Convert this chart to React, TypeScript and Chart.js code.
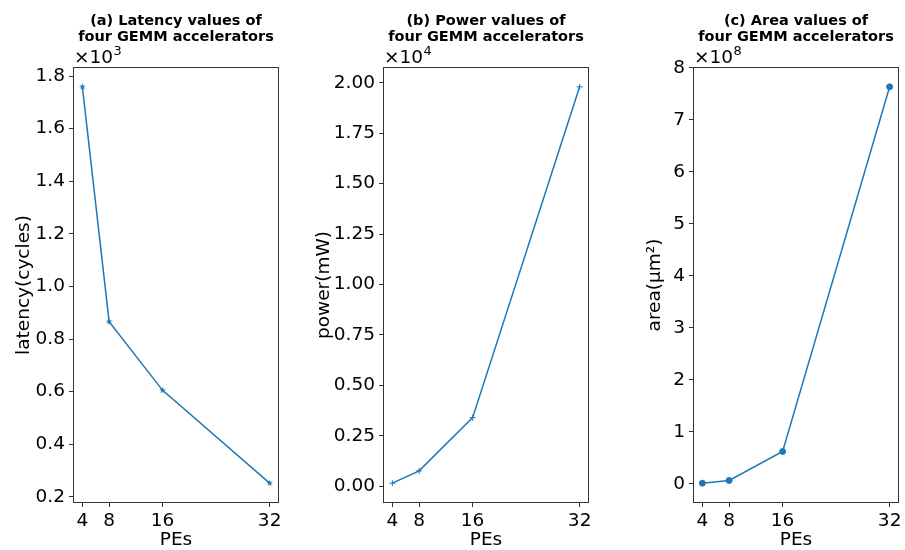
import React, { useEffect, useRef } from "react";
import { Chart, registerables } from "chart.js";

Chart.register(...registerables);

// ---------- data ----------
const PES = [4, 8, 16, 32];
const LATENCY = [1759, 866, 605, 252];
const POWER = [150, 760, 3400, 19800];
const AREA = [1.0e6, 6.3e6, 6.2e7, 7.635e8];

const X_TICKS = [4, 8, 16, 32];
const LATENCY_TICKS = [200, 400, 600, 800, 1000, 1200, 1400, 1600, 1800];
const POWER_TICKS = [0, 2500, 5000, 7500, 10000, 12500, 15000, 17500, 20000];
const AREA_TICKS = [0, 1e8, 2e8, 3e8, 4e8, 5e8, 6e8, 7e8, 8e8];

const TITLES = [
  ["(a) Latency values of", "four GEMM accelerators"],
  ["(b) Power values of", "four GEMM accelerators"],
  ["(c) Area values of", "four GEMM accelerators"],
];
const Y_LABELS = ["latency(cycles)", "power(mW)", "area(μm²)"];
const X_LABEL = "PEs";
const SCALE_BASE = "×10";
const SCALE_EXP = ["3", "4", "8"];

// ---------- style ----------
const FONT = "'DejaVu Sans', sans-serif";
const BLUE = "#1f77b4";
const AXIS_COLOR = "#333333";
const FS = 18.5;

function makeStar(color: string, size: number) {
  const c = document.createElement("canvas");
  c.width = size;
  c.height = size;
  const ctx = c.getContext("2d")!;
  const cx = size / 2;
  const cy = size / 2;
  const R = size / 2;
  const r = R * 0.4;
  ctx.beginPath();
  for (let i = 0; i < 10; i++) {
    const a = -Math.PI / 2 + (i * Math.PI) / 5;
    const rad = i % 2 === 0 ? R : r;
    ctx.lineTo(cx + rad * Math.cos(a), cy + rad * Math.sin(a));
  }
  ctx.closePath();
  ctx.fillStyle = color;
  ctx.fill();
  return c;
}

function range(vals: number[]) {
  const mn = Math.min(...vals);
  const mx = Math.max(...vals);
  const d = (mx - mn) * 0.05;
  return { min: mn - d, max: mx + d };
}

type Panel = {
  left: number;
  width: number;
  areaLeft: number;
  areaRight: number;
  yTitleCenter: number;
  values: number[];
  ticks: number[];
  divisor: number;
  decimals: number;
  marker: string;
};

const PANELS: Panel[] = [
  { left: 0, width: 300, areaLeft: 73, areaRight: 279, yTitleCenter: 24.5, values: LATENCY, ticks: LATENCY_TICKS, divisor: 1e3, decimals: 1, marker: "star" },
  { left: 300, width: 300, areaLeft: 83, areaRight: 289, yTitleCenter: 24, values: POWER, ticks: POWER_TICKS, divisor: 1e4, decimals: 2, marker: "plus" },
  { left: 600, width: 305, areaLeft: 93, areaRight: 299, yTitleCenter: 55, values: AREA, ticks: AREA_TICKS, divisor: 1e8, decimals: 0, marker: "circle" },
];

const HEIGHT = 550;
const AREA_TOP = 67;
const AREA_BOTTOM = 503;

function PanelChart({ index }: { index: number }) {
  const ref = useRef<HTMLCanvasElement | null>(null);
  const p = PANELS[index];

  useEffect(() => {
    if (!ref.current) return;
    const xr = range(PES);
    const yr = range(p.values);
    const tickFont = { family: FONT, size: FS };
    const lh = FS * 1.2;

    let pointStyle: any = "circle";
    let pointRadius = 3;
    let pointBorderWidth = 1;
    if (p.marker === "star") {
      pointStyle = makeStar(BLUE, 7);
    } else if (p.marker === "plus") {
      pointStyle = "cross";
      pointRadius = 3;
      pointBorderWidth = 1;
    }

    const overlay = {
      id: "overlay" + index,
      afterDraw(chart: any) {
        const { ctx, chartArea } = chart;
        const { left, right, top, bottom } = chartArea;
        ctx.save();
        // frame (all four spines)
        ctx.strokeStyle = AXIS_COLOR;
        ctx.lineWidth = 1;
        ctx.strokeRect(Math.round(left) + 0.5, Math.round(top) + 0.5, Math.round(right - left) - 1, Math.round(bottom - top) - 1);
        // title
        ctx.fillStyle = "#000";
        ctx.font = `bold 14.5px ${FONT}`;
        ctx.textAlign = "center";
        ctx.textBaseline = "alphabetic";
        const cx = (left + right) / 2;
        ctx.fillText(TITLES[index][0], cx, 25);
        ctx.fillText(TITLES[index][1], cx, 40.5);
        // offset (scale factor) label
        ctx.textAlign = "left";
        ctx.font = `${FS}px ${FONT}`;
        const bx = left + 1;
        const by = top - 4.5;
        ctx.fillText(SCALE_BASE, bx, by);
        const w = ctx.measureText(SCALE_BASE).width;
        ctx.font = `${FS * 0.7}px ${FONT}`;
        ctx.fillText(SCALE_EXP[index], bx + w + 0.5, by - 7.5);
        ctx.restore();
      },
    };

    const chart = new Chart(ref.current, {
      type: "line",
      data: {
        datasets: [
          {
            data: PES.map((x, i) => ({ x, y: p.values[i] })),
            borderColor: BLUE,
            backgroundColor: BLUE,
            pointBackgroundColor: BLUE,
            pointBorderColor: BLUE,
            borderWidth: 1.5,
            pointStyle,
            pointRadius,
            pointBorderWidth,
            pointHoverRadius: pointRadius,
            tension: 0,
            fill: false,
            clip: false as any,
          },
        ],
      },
      options: {
        responsive: false,
        animation: false,
        devicePixelRatio: 1,
        layout: { padding: { left: 0, right: p.width - p.areaRight, top: AREA_TOP, bottom: 0 } },
        plugins: {
          legend: { display: false },
          tooltip: { enabled: false },
          title: { display: false },
        },
        scales: {
          x: {
            type: "linear",
            min: xr.min,
            max: xr.max,
            afterBuildTicks: (s: any) => {
              s.ticks = X_TICKS.map((v) => ({ value: v }));
            },
            afterFit: (s: any) => {
              s.height = HEIGHT - AREA_BOTTOM;
            },
            grid: { drawOnChartArea: false, drawTicks: true, tickLength: 4, color: AXIS_COLOR, lineWidth: 1 },
            border: { display: false },
            ticks: {
              font: tickFont,
              color: "#000",
              padding: 3,
              maxRotation: 0,
              autoSkip: false,
              callback: (v: any) => String(v),
            },
            title: {
              display: true,
              text: X_LABEL,
              font: tickFont,
              color: "#000",
              padding: { top: 0, bottom: -1 },
            },
          },
          y: {
            type: "linear",
            min: yr.min,
            max: yr.max,
            afterBuildTicks: (s: any) => {
              s.ticks = p.ticks.map((v) => ({ value: v }));
            },
            afterFit: (s: any) => {
              s.width = p.areaLeft;
            },
            grid: { drawOnChartArea: false, drawTicks: true, tickLength: 4, color: AXIS_COLOR, lineWidth: 1 },
            border: { display: false },
            ticks: {
              font: tickFont,
              color: "#000",
              padding: 4,
              autoSkip: false,
              callback: (v: any) => (Number(v) / p.divisor).toFixed(p.decimals),
            },
            title: {
              display: true,
              text: Y_LABELS[index],
              font: tickFont,
              color: "#000",
              padding: { top: p.yTitleCenter - lh / 2, bottom: 0 },
            },
          },
        },
      } as any,
      plugins: [overlay],
    });
    return () => chart.destroy();
  }, [index]);

  return (
    <canvas
      ref={ref}
      width={p.width}
      height={HEIGHT}
      style={{ position: "absolute", left: p.left, top: 0, width: p.width, height: HEIGHT }}
    />
  );
}

export default function App() {
  return (
    <div
      style={{
        position: "absolute",
        left: 0,
        top: 0,
        width: 905,
        height: HEIGHT,
        background: "#fff",
        overflow: "hidden",
      }}
    >
      {PANELS.map((_, i) => (
        <PanelChart key={i} index={i} />
      ))}
    </div>
  );
}
